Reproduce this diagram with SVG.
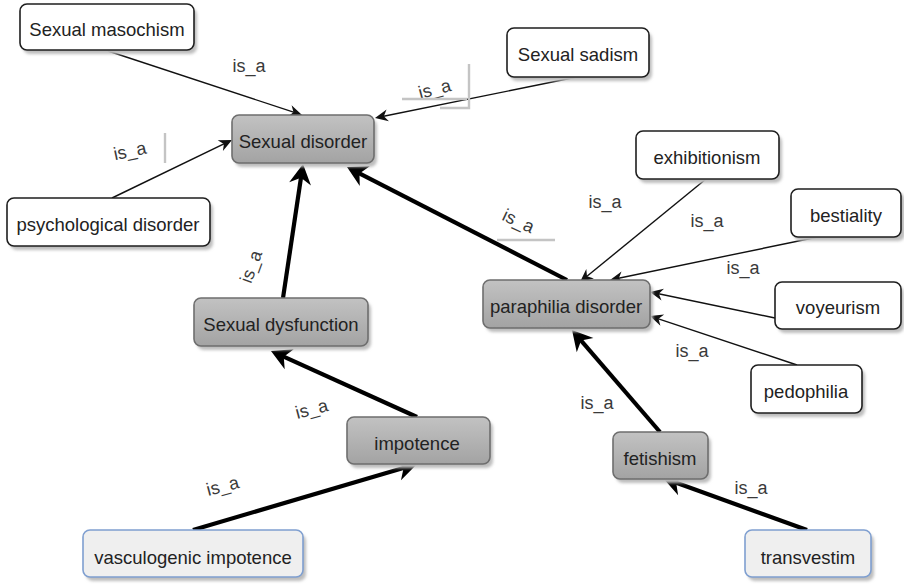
<svg xmlns="http://www.w3.org/2000/svg" width="904" height="584" viewBox="0 0 904 584">
  <style>
    .box { stroke-width: 1.6; }
    .plain { fill: #ffffff; stroke: #1e1e1e; }
    .grey { fill: url(#greyFill); stroke: #6e6e6e; }
    .pale { fill: #efefef; stroke: #7f9fd0; }
    .shadow { fill: #bdbdbd; filter: url(#soft); }
    .name { font-family: "Liberation Sans", Arial, sans-serif; font-size: 18.5px; fill: #222; text-anchor: middle; }
    .rel { font-family: "Liberation Sans", Arial, sans-serif; font-size: 18px; fill: #3a3a3a; text-anchor: middle; }
    .thin { stroke: #111; stroke-width: 1.4; fill: none; marker-end: url(#headThin); }
    .thick { stroke: #000; stroke-width: 4.2; fill: none; marker-end: url(#headThick); }
    .tick { stroke: #c4c4c4; stroke-width: 2.4; fill: none; }
  </style>
  <defs>
    <linearGradient id="greyFill" x1="0" y1="0" x2="0" y2="1">
      <stop offset="0" stop-color="#c2c2c2"/>
      <stop offset="1" stop-color="#a3a3a3"/>
    </linearGradient>
    <filter id="soft" x="-10%" y="-20%" width="120%" height="140%">
      <feGaussianBlur stdDeviation="1.4"/>
    </filter>
    <marker id="headThin" markerUnits="userSpaceOnUse" markerWidth="14" markerHeight="12" refX="8" refY="6" orient="auto" overflow="visible">
      <path d="M0,0 L13,6 L0,12 L4,6 Z" fill="#111"/>
    </marker>
    <marker id="headThick" markerUnits="userSpaceOnUse" markerWidth="21" markerHeight="22" refX="11" refY="11" orient="auto" overflow="visible">
      <path d="M0,0 L20,11 L0,22 L6,11 Z" fill="#000"/>
    </marker>
  </defs>

  <!-- connectors -->
  <g id="connectors">
    <line class="thin" x1="108" y1="51" x2="297.3" y2="113.4"/>
    <line class="thin" x1="112" y1="198" x2="227.5" y2="142.2"/>
    <line class="thin" x1="577" y1="77" x2="379.9" y2="117"/>
    <line class="thick" x1="567" y1="280" x2="355" y2="171.1"/>
    <line class="thick" x1="283" y1="298" x2="301.7" y2="172.9"/>
    <line class="thick" x1="417" y1="417" x2="279.2" y2="354.7"/>
    <line class="thick" x1="193" y1="530" x2="408.4" y2="466.5"/>
    <line class="thin" x1="706" y1="179" x2="583.9" y2="278.8"/>
    <line class="thin" x1="818" y1="237" x2="614.9" y2="279"/>
    <line class="thin" x1="775" y1="318" x2="654.9" y2="293"/>
    <line class="thin" x1="797" y1="365" x2="654.7" y2="317.6"/>
    <line class="thick" x1="660" y1="432" x2="577.9" y2="336.8"/>
    <line class="thick" x1="807" y1="530" x2="671.5" y2="481.1"/>

    <!-- edge labels -->
    <text class="rel" x="249" y="72">is_a</text>
    <g transform="translate(435,90) rotate(-15)"><text class="rel" x="0" y="5">is_a</text></g>
    <path class="tick" d="M402,99 H467 M469,64 V108 H440"/>
    <g transform="translate(130,152) rotate(-12)"><text class="rel" x="0" y="5">is_a</text></g>
    <path class="tick" d="M165,133 V163"/>
    <g transform="translate(252,267) rotate(-70)"><text class="rel" x="0" y="5">is_a</text></g>
    <g transform="translate(518,222) rotate(25)"><text class="rel" x="0" y="5">is_a</text></g>
    <path class="tick" d="M497,240 H555"/>
    <text class="rel" x="605" y="208">is_a</text>
    <text class="rel" x="707" y="227">is_a</text>
    <text class="rel" x="743" y="274">is_a</text>
    <text class="rel" x="692" y="357">is_a</text>
    <text class="rel" x="597" y="409">is_a</text>
    <text class="rel" x="751" y="494">is_a</text>
    <g transform="translate(312,410) rotate(-15)"><text class="rel" x="0" y="5">is_a</text></g>
    <g transform="translate(223,487) rotate(-15)"><text class="rel" x="0" y="5">is_a</text></g>
  </g>

  <!-- nodes -->
  <g id="sexual-masochism">
    <rect class="shadow" x="23" y="8" width="174" height="46" rx="7"/>
    <rect class="box plain" x="20" y="4" width="174" height="46" rx="7"/>
    <text class="name" x="107" y="36">Sexual masochism</text>
  </g>
  <g id="sexual-sadism">
    <rect class="shadow" x="510" y="32" width="142" height="49" rx="7"/>
    <rect class="box plain" x="507" y="28" width="142" height="49" rx="7"/>
    <text class="name" x="578" y="61">Sexual sadism</text>
  </g>
  <g id="sexual-disorder">
    <rect class="shadow" x="235" y="119" width="142" height="48" rx="7"/>
    <rect class="box grey" x="232" y="115" width="142" height="48" rx="7"/>
    <text class="name" x="303" y="148">Sexual disorder</text>
  </g>
  <g id="psychological-disorder">
    <rect class="shadow" x="10" y="202" width="203" height="48" rx="7"/>
    <rect class="box plain" x="7" y="198" width="203" height="48" rx="7"/>
    <text class="name" x="108" y="231">psychological disorder</text>
  </g>
  <g id="exhibitionism">
    <rect class="shadow" x="639" y="135" width="143" height="48" rx="7"/>
    <rect class="box plain" x="636" y="131" width="143" height="48" rx="7"/>
    <text class="name" x="707" y="164">exhibitionism</text>
  </g>
  <g id="bestiality">
    <rect class="shadow" x="794" y="193" width="111" height="48" rx="7"/>
    <rect class="box plain" x="791" y="189" width="110" height="48" rx="7"/>
    <text class="name" x="846" y="222">bestiality</text>
  </g>
  <g id="sexual-dysfunction">
    <rect class="shadow" x="197" y="302" width="174" height="48" rx="7"/>
    <rect class="box grey" x="194" y="298" width="174" height="48" rx="7"/>
    <text class="name" x="281" y="331">Sexual dysfunction</text>
  </g>
  <g id="paraphilia-disorder">
    <rect class="shadow" x="486" y="284" width="167" height="48" rx="7"/>
    <rect class="box grey" x="483" y="280" width="167" height="48" rx="7"/>
    <text class="name" x="566" y="313">paraphilia disorder</text>
  </g>
  <g id="voyeurism">
    <rect class="shadow" x="778" y="286" width="126" height="47" rx="7"/>
    <rect class="box plain" x="775" y="282" width="126" height="47" rx="7"/>
    <text class="name" x="838" y="314">voyeurism</text>
  </g>
  <g id="pedophilia">
    <rect class="shadow" x="754" y="369" width="111" height="48" rx="7"/>
    <rect class="box plain" x="751" y="365" width="111" height="48" rx="7"/>
    <text class="name" x="806" y="398">pedophilia</text>
  </g>
  <g id="impotence">
    <rect class="shadow" x="350" y="421" width="143" height="47" rx="7"/>
    <rect class="box grey" x="347" y="417" width="143" height="47" rx="7"/>
    <text class="name" x="417" y="450">impotence</text>
  </g>
  <g id="fetishism">
    <rect class="shadow" x="616" y="436" width="95" height="47" rx="7"/>
    <rect class="box grey" x="613" y="432" width="95" height="47" rx="7"/>
    <text class="name" x="660" y="465">fetishism</text>
  </g>
  <g id="vasculogenic-impotence">
    <rect class="shadow" x="86" y="534" width="220" height="47" rx="7"/>
    <rect class="box pale" x="83" y="530" width="220" height="47" rx="7"/>
    <text class="name" x="193" y="564">vasculogenic impotence</text>
  </g>
  <g id="transvestim">
    <rect class="shadow" x="748" y="534" width="126" height="47" rx="7"/>
    <rect class="box pale" x="745" y="530" width="126" height="47" rx="7"/>
    <text class="name" x="808" y="564">transvestim</text>
  </g>
</svg>
